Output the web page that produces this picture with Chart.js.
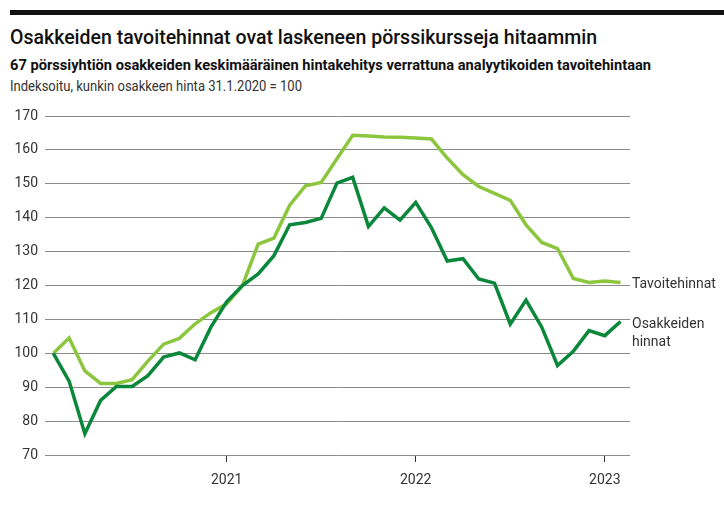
<!DOCTYPE html>
<html lang="fi">
<head>
  <meta charset="UTF-8" />
  <title>Osakkeiden tavoitehinnat</title>
  <script src="https://cdn.jsdelivr.net/npm/chart.js"></script>
  <style>
    body { margin: 0; width: 724px; height: 505px; background: #fff; position: relative; overflow: hidden; font-family: 'Liberation Sans', sans-serif; }
    .bar { position: absolute; left: 10px; top: 10px; width: 714px; height: 5px; background: #111; }
    .txt { position: absolute; left: 10px; white-space: nowrap; transform-origin: 0 0; color: #111; }
    #title { top: 25px; font-family: Roboto, sans-serif; font-weight: 500; font-size: 20px; }
    #sub { top: 57px; font-family: Roboto, sans-serif; font-weight: 700; font-size: 14.5px; }
    #note { top: 78px; font-family: Roboto, sans-serif; font-size: 14px; color: #333; }
    #chart { position: absolute; left: 0; top: 100px; }
  </style>
</head>
<body>
  <div class="bar"></div>
  <div id="title" class="txt" data-w="587">Osakkeiden tavoitehinnat ovat laskeneen pörssikursseja hitaammin</div>
  <div id="sub" class="txt" data-w="641">67 pörssiyhtiön osakkeiden keskimääräinen hintakehitys verrattuna analyytikoiden tavoitehintaan</div>
  <div id="note" class="txt" data-w="292">Indeksoitu, kunkin osakkeen hinta 31.1.2020 = 100</div>
  <canvas id="chart" width="724" height="405"></canvas>

  <script>
    // month ends, 31.1.2020 = 100
    const months = [
      '2020-01', '2020-02', '2020-03', '2020-04', '2020-05', '2020-06', '2020-07', '2020-08', '2020-09', '2020-10', '2020-11', '2020-12',
      '2021-01', '2021-02', '2021-03', '2021-04', '2021-05', '2021-06', '2021-07', '2021-08', '2021-09', '2021-10', '2021-11', '2021-12',
      '2022-01', '2022-02', '2022-03', '2022-04', '2022-05', '2022-06', '2022-07', '2022-08', '2022-09', '2022-10', '2022-11', '2022-12',
      '2023-01'
    ];
    const tavoitehinnat = [
      100, 104.5, 94.8, 91.1, 91.1, 92.2, 97.7, 102.7, 104.4, 108.7, 112, 114.6,
      120, 132.2, 134, 143.7, 149.4, 150.4, 157.4, 164.3, 164.1, 163.8, 163.7, 163.5,
      163.2, 157.6, 152.7, 149.2, 147.2, 145.1, 137.9, 132.7, 130.9, 122.1, 120.9, 121.3,
      120.9
    ];
    const osakkeidenHinnat = [
      100, 91.8, 76.3, 86.1, 90.2, 90.2, 93.4, 98.9, 100.1, 98.1, 107.7, 115.2,
      120, 123.4, 128.8, 137.9, 138.6, 139.8, 150.2, 151.9, 137.4, 142.9, 139.3, 144.5,
      137, 127.2, 127.9, 121.9, 120.7, 108.6, 115.7, 107.7, 96.4, 100.6, 106.7, 105.2,
      109.4
    ];
    const yearTickPos = [11, 23, 35];
    const yearTickLabels = ['2021', '2022', '2023'];

    const lightGreen = '#8cc63f';
    const darkGreen = '#0a873b';

    // squeeze the header lines to the width of the original condensed type
    document.querySelectorAll('.txt').forEach(el => {
      const target = parseFloat(el.dataset.w);
      const w = el.getBoundingClientRect().width;
      el.style.transform = 'scaleX(' + (target / w) + ')';
    });

    const endLabels = {
      id: 'endLabels',
      afterDatasetsDraw(chart) {
        const ctx = chart.ctx;
        const x = chart.chartArea.right + 2;
        ctx.save();
        ctx.font = '14px Roboto, sans-serif';
        ctx.fillStyle = '#333';
        ctx.textBaseline = 'middle';
        chart.data.datasets.forEach((ds, i) => {
          const pts = chart.getDatasetMeta(i).data;
          const y = pts[pts.length - 1].y;
          ds.endLabel.forEach((line, j) => {
            ctx.fillText(line, x, y + ds.labelShift + j * 18);
          });
        });
        ctx.restore();
      }
    };

    const toPoints = arr => arr.map((v, i) => ({ x: i, y: v }));

    new Chart(document.getElementById('chart'), {
      type: 'line',
      data: {
        datasets: [
          {
            label: 'Tavoitehinnat',
            data: toPoints(tavoitehinnat),
            borderColor: lightGreen,
            borderWidth: 3.5,
            pointRadius: 0,
            tension: 0,
            order: 2,
            endLabel: ['Tavoitehinnat'],
            labelShift: 2
          },
          {
            label: 'Osakkeiden hinnat',
            data: toPoints(osakkeidenHinnat),
            borderColor: darkGreen,
            borderWidth: 3.5,
            pointRadius: 0,
            tension: 0,
            order: 1,
            endLabel: ['Osakkeiden', 'hinnat'],
            labelShift: 3
          }
        ]
      },
      options: {
        responsive: false,
        animation: false,
        layout: { padding: { top: 16, right: 94, left: 0, bottom: 0 } },
        plugins: { legend: { display: false }, tooltip: { enabled: false } },
        scales: {
          x: {
            type: 'linear',
            min: -0.53,
            max: 36.6,
            afterBuildTicks: s => { s.ticks = yearTickPos.map(v => ({ value: v })); },
            afterFit: s => { s.height = 50; },
            border: { display: false },
            grid: { drawOnChartArea: false, drawTicks: true, tickLength: 7, color: '#333', lineWidth: 1 },
            ticks: {
              autoSkip: false,
              maxRotation: 0,
              padding: 10,
              color: '#333',
              font: { family: 'Roboto, sans-serif', size: 14 },
              callback: v => yearTickLabels[yearTickPos.indexOf(v)] || ''
            }
          },
          y: {
            min: 70,
            max: 170,
            afterFit: s => { s.width = 45; },
            border: { display: false },
            grid: { color: '#8a8a8a', lineWidth: 1, drawTicks: false },
            ticks: {
              stepSize: 10,
              padding: 7,
              color: '#333',
              font: { family: 'Roboto, sans-serif', size: 14 }
            }
          }
        }
      },
      plugins: [endLabels]
    });
  </script>
</body>
</html>
